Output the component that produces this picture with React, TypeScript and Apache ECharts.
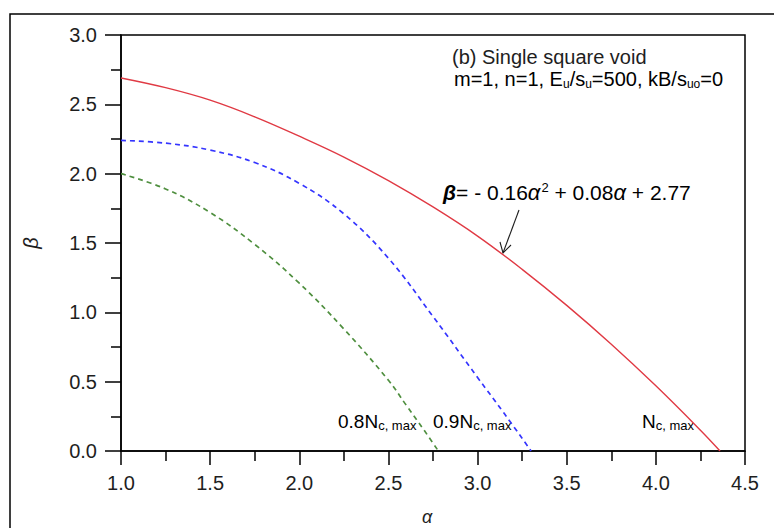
import React, { useEffect, useRef } from "react";
import * as echarts from "echarts";

const xTicks = { min: 1.0, max: 4.5, interval: 0.5 };
const yTicks = { min: 0, max: 3.0, interval: 0.5 };

const redAlpha = [1.0, 1.25, 1.5, 1.75, 2.0, 2.25, 2.5, 2.75, 3.0, 3.25, 3.5, 3.75, 4.0, 4.25, 4.36];
const redBeta = [2.69, 2.62, 2.53, 2.41, 2.27, 2.12, 1.95, 1.76, 1.55, 1.31, 1.05, 0.77, 0.47, 0.15, 0.0];

const blueAlpha = [1.0, 1.25, 1.5, 1.75, 2.0, 2.25, 2.5, 2.75, 3.0, 3.15, 3.3];
const blueBeta = [2.24, 2.22, 2.17, 2.08, 1.93, 1.71, 1.39, 0.97, 0.53, 0.27, 0.0];

const greenAlpha = [1.0, 1.25, 1.5, 1.75, 2.0, 2.25, 2.5, 2.6, 2.7, 2.78];
const greenBeta = [2.0, 1.89, 1.72, 1.49, 1.21, 0.88, 0.51, 0.33, 0.15, 0.0];

const curveLabels = ["0.8N", "0.9N", "N"];

const FONT = "'Liberation Sans', Arial, sans-serif";
const INK = "#1e1e1e";

function zip(a: number[], b: number[]) {
  return a.map((v, i) => [v, b[i]]);
}

export default function App() {
  const ref = useRef<HTMLDivElement>(null);
  useEffect(() => {
    document.body.style.margin = "0";
    const chart = echarts.init(ref.current!, null, { renderer: "svg" });
    const sub = { fontSize: 13, padding: [9, 0, 0, 0], fontFamily: FONT, color: INK };
    const main = { fontSize: 19, fontFamily: FONT, color: INK };
    const tickLabel = {
      fontSize: 20,
      fontFamily: FONT,
      color: INK,
      formatter: (v: number) => v.toFixed(1),
    };
    chart.setOption({
      animation: false,
      backgroundColor: "#fff",
      grid: {
        left: 121,
        right: 29,
        top: 35,
        bottom: 77,
        show: true,
        borderColor: "#000",
        borderWidth: 1.5,
      },
      xAxis: {
        type: "value",
        min: xTicks.min,
        max: xTicks.max,
        interval: xTicks.interval,
        axisLine: { onZero: false, lineStyle: { color: "#000", width: 1.5 } },
        axisTick: { inside: false, length: 14, lineStyle: { color: "#000", width: 1.5 } },
        minorTick: { show: true, splitNumber: 2, length: 10, lineStyle: { color: "#000", width: 1.5 } },
        splitLine: { show: false },
        axisLabel: { ...tickLabel, margin: 22 },
      },
      yAxis: {
        type: "value",
        min: yTicks.min,
        max: yTicks.max,
        interval: yTicks.interval,
        axisLine: { onZero: false, lineStyle: { color: "#000", width: 1.5 } },
        axisTick: { inside: false, length: 16, lineStyle: { color: "#000", width: 1.5 } },
        minorTick: { show: true, splitNumber: 2, length: 10, lineStyle: { color: "#000", width: 1.5 } },
        splitLine: { show: false },
        axisLabel: { ...tickLabel, margin: 24 },
      },
      series: [
        {
          type: "line",
          data: zip(redAlpha, redBeta),
          smooth: 0.4,
          showSymbol: false,
          lineStyle: { color: "#e03a44", width: 1.4 },
          z: 3,
        },
        {
          type: "line",
          data: zip(blueAlpha, blueBeta),
          smooth: 0.4,
          showSymbol: false,
          lineStyle: { color: "#3535ff", width: 1.7, type: [5, 4] },
          z: 3,
        },
        {
          type: "line",
          data: zip(greenAlpha, greenBeta),
          smooth: 0.4,
          showSymbol: false,
          lineStyle: { color: "#4f8f3f", width: 1.7, type: [5, 4] },
          z: 3,
        },
      ],
      graphic: [
        {
          type: "rect",
          shape: { x: 10, y: 14, width: 800, height: 600 },
          style: { fill: "none", stroke: "#000", lineWidth: 1.5 },
          silent: true,
        },
        {
          type: "text",
          x: 452,
          y: 57,
          style: {
            text: "(b) Single square void",
            fontSize: 20,
            fontFamily: FONT,
            fill: INK,
            verticalAlign: "middle",
          },
        },
        {
          type: "text",
          x: 454,
          y: 79,
          style: {
            text: "{m|m=1, n=1, E}{s|u}{m|/s}{s|u}{m|=500, kB/s}{s|uo}{m|=0}",
            verticalAlign: "middle",
            rich: {
              m: { fontSize: 20, fontFamily: FONT, color: INK },
              s: { fontSize: 12, fontFamily: FONT, color: INK, padding: [9, 0, 0, 0] },
            },
          },
        },
        {
          type: "text",
          x: 443,
          y: 192,
          style: {
            text: "{b|β}{m|= - 0.16}{a|α}{sup|2}{m| + 0.08}{a|α}{m| + 2.77}",
            verticalAlign: "middle",
            rich: {
              b: { fontSize: 21, fontStyle: "italic", fontWeight: "bold", fontFamily: FONT, color: INK },
              a: { fontSize: 22, fontStyle: "italic", fontFamily: FONT, color: INK },
              m: { fontSize: 21, fontFamily: FONT, color: INK },
              sup: { fontSize: 13, fontFamily: FONT, color: INK, padding: [0, 0, 10, 1] },
            },
          },
        },
        {
          type: "line",
          shape: { x1: 519, y1: 210, x2: 503, y2: 253 },
          style: { stroke: INK, lineWidth: 1.1 },
        },
        {
          type: "polyline",
          shape: { points: [[500, 242], [503, 253], [511, 245]] },
          style: { stroke: INK, lineWidth: 1.1, fill: "none" },
        },
        {
          type: "text",
          x: 338,
          y: 421,
          style: {
            text: `{m|${curveLabels[0]}}{s|c, max}`,
            verticalAlign: "middle",
            rich: { m: main, s: sub },
          },
        },
        {
          type: "text",
          x: 433,
          y: 421,
          style: {
            text: `{m|${curveLabels[1]}}{s|c, max}`,
            verticalAlign: "middle",
            rich: { m: main, s: sub },
          },
        },
        {
          type: "text",
          x: 642,
          y: 421,
          style: {
            text: `{m|${curveLabels[2]}}{s|c, max}`,
            verticalAlign: "middle",
            rich: { m: main, s: sub },
          },
        },
        {
          type: "text",
          x: 31,
          y: 243,
          rotation: Math.PI / 2,
          style: {
            text: "β",
            fontSize: 20,
            fontStyle: "italic",
            fontFamily: FONT,
            fill: INK,
            align: "center",
            verticalAlign: "middle",
          },
        },
        {
          type: "text",
          x: 427,
          y: 517,
          style: {
            text: "α",
            fontSize: 18,
            fontStyle: "italic",
            fontFamily: FONT,
            fill: INK,
            align: "center",
            verticalAlign: "middle",
          },
        },
      ],
    });
    return () => chart.dispose();
  }, []);
  return (
    <div
      ref={ref}
      style={{ position: "absolute", left: 0, top: 0, width: 774, height: 528 }}
    />
  );
}
